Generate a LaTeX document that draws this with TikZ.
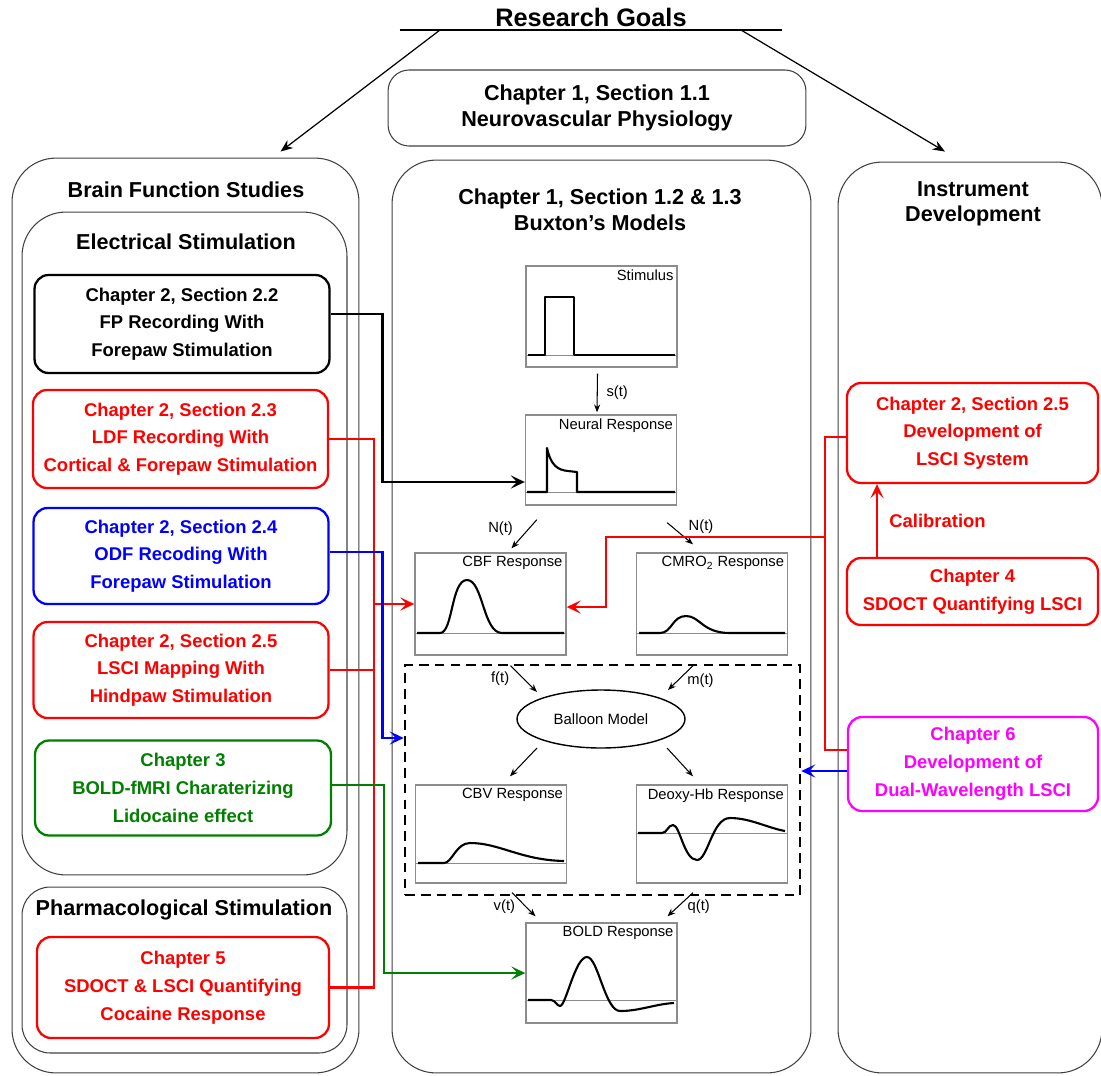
\documentclass[tikz,border=0pt]{standalone}
\usepackage{fontspec}
\setmainfont{Liberation Sans}
\usetikzlibrary{arrows.meta,shapes.geometric,positioning}

\definecolor{chapgreen}{RGB}{0,128,0}
\definecolor{chapmagenta}{RGB}{255,0,255}

\tikzset{
  container/.style={draw=black!75, line width=0.6pt, rounded corners=25pt},
  ctitle/.style={font=\bfseries\fontsize{12.3}{14.5}\selectfont, align=center},
  chap/.style={draw=#1, text=#1, line width=1.3pt, rounded corners=8pt, align=center,
    font=\bfseries\fontsize{10.5}{15.8}\selectfont},
  plotlabel/.style={font=\fontsize{8.4}{10}\selectfont, inner sep=2.2pt},
  plotbox/.style={draw=black!45, line width=0.8pt, minimum width=3.02cm, minimum height=2cm,
    label={[plotlabel,anchor=north east]north east:{#1}}},
  curve/.style={line width=1.2pt, line join=round},
  zero/.style={black!45, line width=0.4pt},
  sig/.style={-{Stealth[length=4.5pt,width=3.5pt]}, line width=0.6pt},
  siglabel/.style={font=\fontsize{8.4}{10}\selectfont, inner sep=2pt},
  goalarrow/.style={-{Stealth[length=7pt,width=5.5pt]}, line width=0.7pt},
  wire/.style={line width=1.4pt},
  link/.style={wire, -{Stealth[length=8pt,width=7.5pt,inset=3.5pt]}},
}

\begin{document}
\begin{tikzpicture}[x=0.02cm, y=-0.02cm]
  \useasboundingbox (0,0) rectangle (1101,1075);
  \clip (0,0) rectangle (1101,1075);

  \node[font=\bfseries\fontsize{14.4}{17}\selectfont, minimum width=7.64cm, anchor=south, inner ysep=1.5pt] (goals) at (591,30) {Research Goals\hspace{10pt}};
  \draw[line width=1.1pt] (goals.south west) -- (goals.south east);

  \node[container, rounded corners=12pt, minimum width=8.36cm, minimum height=1.52cm, ctitle] (phys) at (597,108) {Chapter 1, Section 1.1\\Neurovascular Physiology};

  \node[container, minimum width=6.94cm, minimum height=18.3cm] (brain) at (185.5,615.5) {};
  \node[container, minimum width=6.5cm, minimum height=13.26cm] (elec) at (184.5,543.5) {};
  \node[container, rounded corners=16pt, minimum width=6.5cm, minimum height=3.32cm] (pharm) at (184.5,970) {};
  \node[container, minimum width=8.38cm, minimum height=18.26cm] (buxton) at (601.5,616.5) {};
  \node[container, minimum width=5.28cm, minimum height=18.22cm] (instr) at (970,617.5) {};

  \node[ctitle] at (186,190) {Brain Function Studies};
  \node[ctitle] at (186,242) {Electrical Stimulation};
  \node[ctitle] at (184,910) {Pharmacological Stimulation};
  \node[ctitle] at (600,210) {Chapter 1, Section 1.2 \& 1.3\\Buxton’s Models};
  \node[ctitle] at (973,204) {Instrument\\Development};

  \draw[goalarrow] (goals.south -| 440,0) -- ([shift={(95,-6)}]brain.north);
  \draw[goalarrow] (goals.south -| 741,0) -- ([shift={(-25,-10)}]instr.north);

  \node[chap=black, minimum width=5.9cm, minimum height=1.96cm] (fp) at (182,324) {Chapter 2, Section 2.2\\FP Recording With\\Forepaw Stimulation};
  \node[chap=red, minimum width=5.9cm, minimum height=1.96cm] (ldf) at (180.5,439) {Chapter 2, Section 2.3\\LDF Recording With\\Cortical \& Forepaw Stimulation};
  \node[chap=blue, minimum width=5.9cm, minimum height=1.92cm] (odf) at (181,556) {Chapter 2, Section 2.4\\ODF Recoding With\\Forepaw Stimulation};
  \node[chap=red, minimum width=5.9cm, minimum height=1.92cm] (lsci) at (181,670) {Chapter 2, Section 2.5\\LSCI Mapping With\\Hindpaw Stimulation};
  \node[chap=chapgreen, minimum width=5.92cm, minimum height=1.9cm] (lido) at (183,788) {Chapter 3\\BOLD-fMRI Charaterizing\\Lidocaine effect};
  \node[chap=red, minimum width=5.84cm, minimum height=2.02cm] (coc) at (183,987.5) {Chapter 5\\SDOCT \& LSCI Quantifying\\Cocaine Response};

  \node[chap=red, minimum width=5.02cm, minimum height=2cm] (dev) at (972.5,433) {Chapter 2, Section 2.5\\Development of\\LSCI System};
  \node[chap=red, minimum width=5.02cm, minimum height=1.34cm] (sdoct) at (972.5,591.5) {Chapter 4\\SDOCT Quantifying LSCI};
  \node[chap=chapmagenta, minimum width=5cm, minimum height=1.88cm] (dual) at (973,764) {Chapter 6\\Development of\\Dual-Wavelength LSCI};

  \node[draw, line width=1.5pt, dash pattern=on 5.5pt off 3.5pt, minimum width=7.9cm, minimum height=4.6cm] (model) at (602.5,780) {};

  \node[plotbox=Stimulus, minimum height=2.02cm] (stim) at (601.5,316.5) {};
  \node[plotbox=Neural Response, minimum height=1.8cm] (neural) at (601,460) {};
  \node[plotbox=CBF Response, minimum height=2.04cm] (cbf) at (490.5,604) {};
  \node[plotbox=CMRO\textsubscript{2} Response, minimum height=2.04cm] (cmro) at (712,604) {};
  \node[plotbox=CBV Response, minimum height=1.96cm] (cbv) at (491,834) {};
  \node[plotbox=Deoxy-Hb Response, minimum height=1.96cm] (deoxy) at (712,834) {};
  \node[plotbox=BOLD Response] (boldresp) at (601.5,973) {};
  \node[ellipse, draw, line width=0.8pt, minimum width=3.36cm, minimum height=1.16cm, inner sep=0pt, font=\fontsize{8.5}{10}\selectfont] (balloon) at (601,719) {Balloon Model};

  \draw[zero] (526,355) -- (677,355);
  \draw[curve] (528,355) -- (545,355) -- (545,297) -- (574,297) -- (574,355) -- (675,355);
  \draw[zero] (525,492) -- (677,492);
  \draw[curve] (527,492) -- (547,492) -- (547,448) .. controls (551,466) and (558,470) .. (568,471) -- (577,472) -- (577,492) -- (675,492);
  \draw[zero] (415,633) -- (566,633);
  \draw[curve] (417,633) -- (440,633) .. controls (453,633) and (451,580) .. (467,580) .. controls (483,580) and (483,633) .. (502,633) -- (564,633);
  \draw[zero] (637,633) -- (787,633);
  \draw[curve] (639,633) -- (660,633) .. controls (672,633) and (672,616) .. (686,616) .. controls (700,616) and (702,633) .. (730,633) -- (785,633);
  \draw[zero] (416,863) -- (566,863);
  \draw[curve] (418,863) -- (444,863) .. controls (452,863) and (456,843) .. (470,843) .. controls (500,843) and (520,860) .. (564,861);
  \draw[zero] (637,833) -- (787,833);
  \draw[curve] (638,833) -- (662,833) .. controls (667,833) and (668,825) .. (673,825) .. controls (680,825) and (684,860) .. (697,860) .. controls (708,860) and (712,818) .. (730,818) .. controls (750,818) and (768,828) .. (785,831);
  \draw[zero] (526,1000) -- (677,1000);
  \draw[curve] (528,1000) -- (551,1000) .. controls (555,1000) and (557,1006) .. (560,1006) .. controls (566,1006) and (575,957) .. (587,957) .. controls (598,957) and (605,1011) .. (620,1011) .. controls (640,1011) and (655,1004) .. (674,1003);

  \draw[sig] ([shift={(-4,6)}]stim.south) -- ([shift={(-4,-2)}]neural.north) node[midway, right=3pt, siglabel] {s(t)};
  \draw[sig] ([shift={(12,14)}]neural.south west) -- ([shift={(21,-4)}]cbf.north) node[pos=0.3, left=7pt, siglabel] {N(t)};
  \draw[sig] ([shift={(-10,17)}]neural.south east) -- ([shift={(-19,-8)}]cmro.north) node[pos=0.2, right=7pt, siglabel] {N(t)};
  \draw[sig] ([shift={(20,10)}]cbf.south) -- ([shift={(-64,-27)}]balloon.center) node[midway, left=6pt, siglabel] {f(t)};
  \draw[sig] ([shift={(-19,10)}]cmro.south) -- ([shift={(67,-29)}]balloon.center) node[pos=0.6, right=3pt, siglabel] {m(t)};
  \draw[sig] ([shift={(-64,29)}]balloon.center) -- ([shift={(19,-8)}]cbv.north);
  \draw[sig] ([shift={(66,29)}]balloon.center) -- ([shift={(-19,-8)}]deoxy.north);
  \draw[sig] ([shift={(21,9)}]cbv.south) -- ([shift={(-66,-6)}]boldresp.north) node[pos=0.6, left=4pt, siglabel] {v(t)};
  \draw[sig] ([shift={(-19,9)}]deoxy.south) -- ([shift={(66,-6)}]boldresp.north) node[pos=0.6, right=3.4pt, siglabel] {q(t)};

  \draw[link] ([shift={(0,-10)}]fp.east) -- ++(52,0) |- ([shift={(0,22)}]neural.west);
  \draw[wire, red] (ldf.east) -- ++(45,0) coordinate (ldfbus) |- (coc.east);
  \draw[wire, red] (lsci.east) -- (lsci.east -| ldfbus);
  \draw[link, red] (cbf.west -| ldfbus) -- (cbf.west);
  \draw[link, blue] ([shift={(0,-4)}]odf.east) -- ++(53,0) |- ([shift={(0,-42)}]model.west);
  \draw[link, chapgreen] ([shift={(0,-3)}]lido.east) -- ++(52,0) |- (boldresp.west);

  \draw[wire, red] ([shift={(0,4)}]dev.west) -- ++(-21,0) coordinate (devbus) |- ([shift={(0,-14)}]dual.west);
  \draw[link, red] (devbus |- 0,537) -- ++(-219,0) |- ([shift={(0,3)}]cbf.east);
  \draw[link, blue] ([shift={(0,7)}]dual.west) -- ([shift={(0,7)}]dual.west -| model.east);
  \draw[link, red] (sdoct.north -| 877,0) -- (dev.south -| 877,0) node[midway, right=3pt, text=red, font=\bfseries\fontsize{10.5}{12}\selectfont] {Calibration};
\end{tikzpicture}
\end{document}
